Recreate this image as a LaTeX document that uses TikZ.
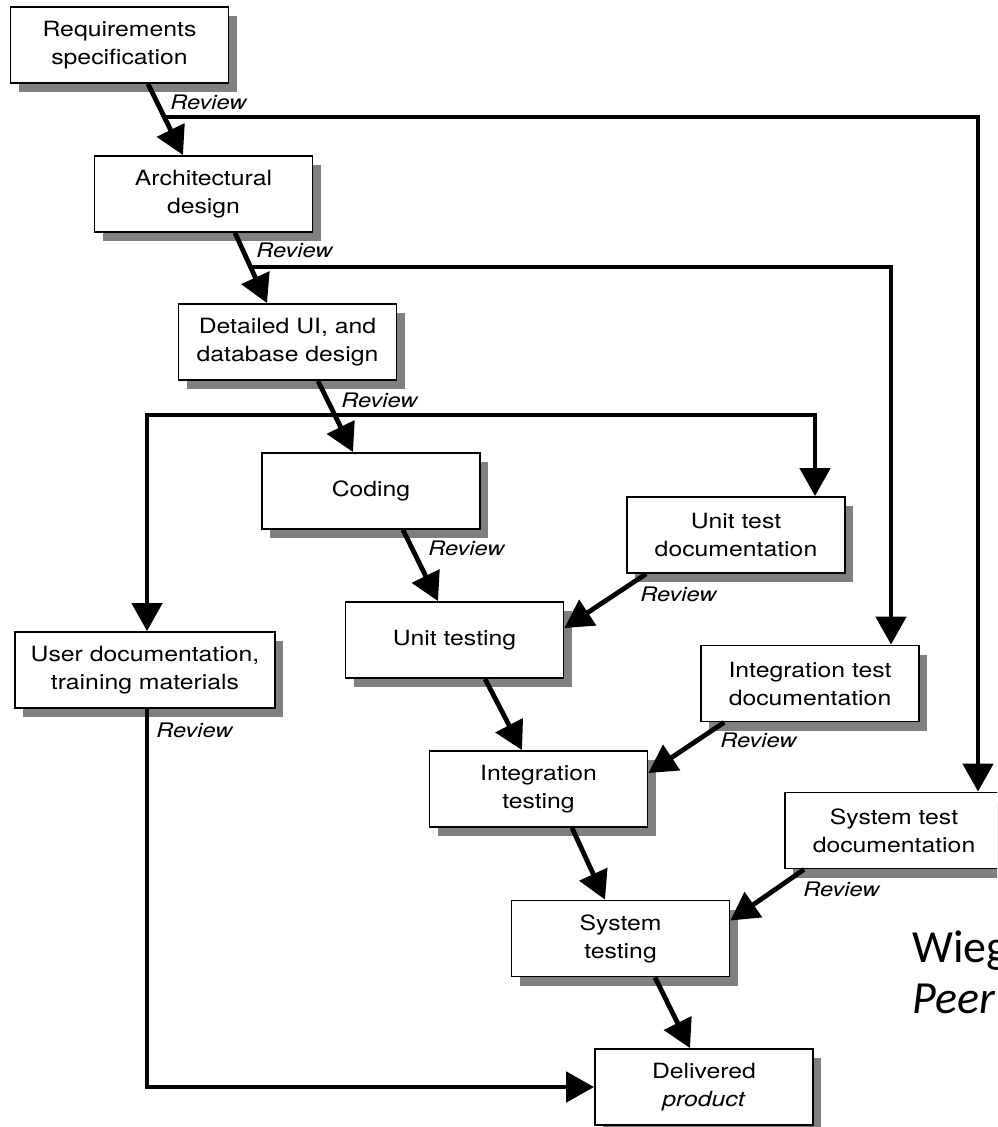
\documentclass[tikz,border=0pt]{standalone}
\usepackage{fontspec}
\setmainfont{TeX Gyre Heros}[FakeStretch=1.18]
\newfontfamily\slidefont{Carlito}
\usetikzlibrary{arrows.meta,shadows}

\tikzset{
  box/.style={draw, line width=0.9pt, fill=white, align=center,
    minimum width=109pt, minimum height=38pt, inner sep=2pt,
    font=\fontsize{10.5}{14}\selectfont,
    drop shadow={shadow xshift=4pt, shadow yshift=-4.5pt, fill=black!50, opacity=1}},
  flow/.style={line width=2.4pt, -{Triangle[length=14pt,width=15pt]}},
  review/.style={anchor=west, inner sep=0pt, font=\fontsize{10}{12}\selectfont\itshape},
  slide/.style={anchor=base west, inner sep=0pt, font=\slidefont\fontsize{23}{27}\selectfont},
}

\begin{document}
\begin{tikzpicture}[x=0.5pt,y=-0.5pt]
  \useasboundingbox (0,0) rectangle (997,1127);
  \clip (0,0) rectangle (997,1127);

  %% phases
  \node[box] (req) at (119.5,45) {Requirements\\specification};
  \node[box] (arch) at (203.5,194) {Architectural\\design};
  \node[box] (det) at (287.5,342) {Detailed UI, and\\database design};
  \node[box] (cod) at (371,491) {Coding};
  \node[box] (ut) at (454.5,640) {Unit testing};
  \node[box] (it) at (538.5,789) {Integration\\testing};
  \node[box] (st) at (620.5,938.5) {System\\testing};
  \node[box] (dp) at (704,1087) {Delivered\\\textit{product}};

  %% documents
  \node[box, minimum width=130pt] (ud) at (145,670) {User documentation,\\training materials};
  \node[box] (utd) at (736,535) {Unit test\\documentation};
  \node[box] (itd) at (810,683.5) {Integration test\\documentation};
  \node[box] (std) at (894,830.5) {System test\\documentation};

  %% down the steps
  \draw[flow] ([xshift=14.25pt]req.south) -- ([xshift=-10.25pt]arch.north);
  \draw[flow] ([xshift=15.75pt]arch.south) -- ([xshift=-10.25pt]det.north);
  \draw[flow] ([xshift=15.25pt]det.south) -- ([xshift=-9pt]cod.north);
  \draw[flow] ([xshift=16pt]cod.south) -- ([xshift=-8.25pt]ut.north);
  \draw[flow] ([xshift=15.25pt]ut.south) -- ([xshift=-8.25pt]it.north);
  \draw[flow] ([xshift=16.75pt]it.south) -- ([xshift=-7.75pt]st.north);
  \draw[flow] ([xshift=17.25pt]st.south) -- ([xshift=-7pt]dp.north);

  %% test docs feed the testing steps
  \draw[flow] ([xshift=10pt]utd.south west) -- ([yshift=6pt]ut.east);
  \draw[flow] ([xshift=12pt]itd.south west) -- ([yshift=8pt]it.east);
  \draw[flow] ([xshift=10pt]std.south west) -- ([yshift=9pt]st.east);

  %% branches off the review arrows
  \coordinate (fb1) at (164.5,117);
  \coordinate (fb2) at (250.5,267);
  \coordinate (fb3) at (335,415);
  \draw[flow] (fb1) -| ([xshift=42pt]std.north);
  \draw[flow] (fb2) -| ([xshift=40.5pt]itd.north);
  \draw[flow] (fb3) -| ([xshift=39.5pt]utd.north);
  \draw[flow] (fb3) -| ([xshift=1pt]ud.north);
  \draw[flow] ([xshift=1pt]ud.south) |- (dp.west);

  %% labels
  \node[review] (rv1) at (170,102) {Review};
  \node[review] (rv2) at (256,250) {Review};
  \node[review] (rv3) at (341,400) {Review};
  \node[review] (rv4) at (428,548) {Review};
  \node[review] (rv5) at (640,594) {Review};
  \node[review] (rv6) at (720,740) {Review};
  \node[review] (rv7) at (803,889) {Review};
  \node[review] (rv8) at (156,730) {Review};

  \node[slide] (wieg) at (912,962) {Wieg};
  \node[slide, font=\slidefont\fontsize{23}{27}\selectfont\itshape] (peer) at (912,1013) {Peer};
\end{tikzpicture}
\end{document}
